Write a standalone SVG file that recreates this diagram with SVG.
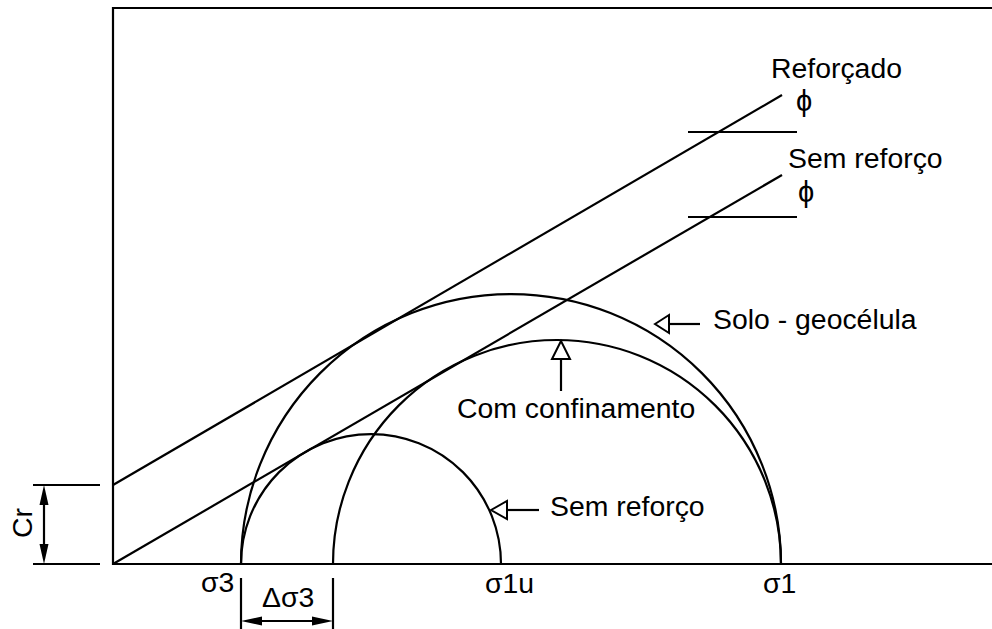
<svg xmlns="http://www.w3.org/2000/svg" width="992" height="629" viewBox="0 0 992 629">
<style>
.ln{stroke:#000;stroke-width:2.2;fill:none}
.t{font-family:"Liberation Sans","DejaVu Sans",Arial,sans-serif;font-size:28.4px;fill:#000}
.phi{font-family:"Liberation Sans","DejaVu Sans",sans-serif;font-size:29px;fill:#000}
.oh{fill:#fff;stroke:#000;stroke-width:2}
.fh{fill:#000;stroke:none}
</style>
<rect x="0" y="0" width="992" height="629" fill="#fff"/>
<g id="axes">
<polyline class="ln" points="992,8 113,8 113,564 992,564"/>
</g>
<g id="envelopes">
<line class="ln" x1="113" y1="485" x2="782" y2="95"/>
<line class="ln" x1="113" y1="564" x2="782" y2="175"/>
<line class="ln" x1="688" y1="132" x2="797" y2="132"/>
<line class="ln" x1="688" y1="217" x2="797" y2="217"/>
<text class="t" x="771" y="78">Reforçado</text>
<text class="phi" x="804" y="111" text-anchor="middle">ϕ</text>
<text class="t" x="788" y="168">Sem reforço</text>
<text class="phi" x="806" y="202" text-anchor="middle">ϕ</text>
</g>
<g id="circles">
<path class="ln" d="M241 564 A130 130 0 0 1 501 564"/>
<path class="ln" d="M241 564 A270 270 0 0 1 781 564"/>
<path class="ln" d="M333 564 A224 224 0 0 1 781 564"/>
</g>
<g id="connectors">
<line class="ln" x1="669" y1="324" x2="700" y2="324"/>
<polygon class="oh" points="655,324 669,315 669,333"/>
<line class="ln" x1="561" y1="359" x2="561" y2="391"/>
<polygon class="oh" points="561,341 552,359 570,359"/>
<line class="ln" x1="507" y1="510" x2="539" y2="510"/>
<polygon class="oh" points="491,510 507,501 507,519"/>
</g>
<g id="labels">
<text class="t" x="713" y="329">Solo - geocélula</text>
<text class="t" x="457" y="418">Com confinamento</text>
<text class="t" x="550" y="516">Sem reforço</text>
<text class="t" x="201" y="592">σ3</text>
<text class="t" x="485" y="593">σ1u</text>
<text class="t" x="763" y="593">σ1</text>
</g>
<g id="dim-cr">
<line class="ln" x1="33" y1="485" x2="100" y2="485"/>
<line class="ln" x1="33" y1="564" x2="100" y2="564"/>
<line class="ln" x1="44" y1="500" x2="44" y2="549"/>
<polygon class="fh" points="44,485 39.5,505 48.5,505"/>
<polygon class="fh" points="44,564 39.5,544 48.5,544"/>
<text class="t" transform="translate(32,538) rotate(-90)">Cr</text>
</g>
<g id="dim-ds3">
<line class="ln" x1="241" y1="578" x2="241" y2="629"/>
<line class="ln" x1="333" y1="578" x2="333" y2="629"/>
<line class="ln" x1="256" y1="621" x2="318" y2="621"/>
<polygon class="fh" points="241,621 262,616.5 262,625.5"/>
<polygon class="fh" points="333,621 312,616.5 312,625.5"/>
<text class="t" x="262" y="607">Δσ3</text>
</g>
</svg>
